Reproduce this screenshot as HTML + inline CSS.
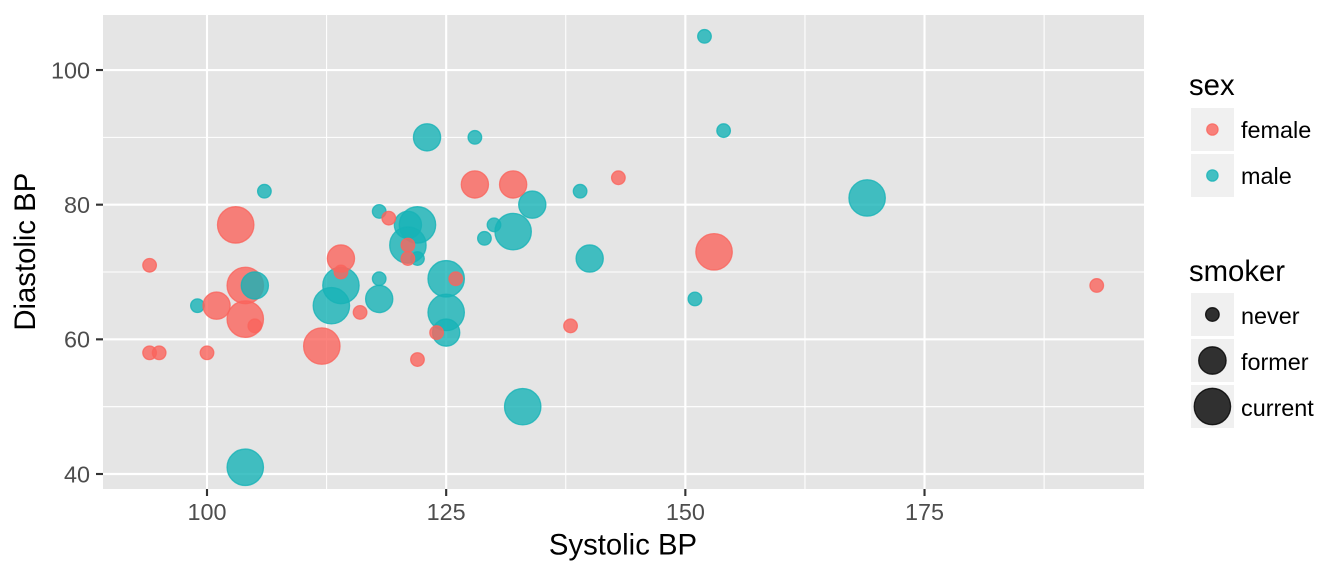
<!DOCTYPE html>
<html>
<head>
<meta charset="utf-8">
<title>Blood pressure scatter plot</title>
<style>
html,body{margin:0;padding:0;background:#fff;width:1344px;height:576px;overflow:hidden}
svg{display:block}
text{font-family:"Liberation Sans",Arial,sans-serif}
.tick-label{font-size:23.4px;fill:#4d4d4d}
.axis-title{font-size:29.3px;fill:#000}
.legend-title{font-size:29.3px;fill:#000}
.legend-label{font-size:23.4px;fill:#000}
</style>
</head>
<body>
<svg id="chart" xmlns="http://www.w3.org/2000/svg" width="1344" height="576" viewBox="0 0 1344 576">
  <rect x="103" y="15" width="1041" height="474" fill="#e5e5e5"/>
  <g id="grid"></g>
  <g id="points"></g>
  <g id="axes"></g>
  <text class="axis-title" x="623" y="554.5" text-anchor="middle">Systolic BP</text>
  <text class="axis-title" x="0" y="0" text-anchor="middle" transform="translate(35 251.7) rotate(-90)">Diastolic BP</text>

  <g>
    <text class="legend-title" x="1189" y="95">sex</text>
    <rect x="1191" y="108" width="43" height="43" fill="#f0f0f0"/>
    <circle cx="1212.4" cy="129.5" r="5.7" fill="#FA645D" fill-opacity=".8" stroke="#FA645D" stroke-opacity=".8" stroke-width="1.2"/>
    <text class="legend-label" x="1241" y="138">female</text>
    <rect x="1191" y="154" width="43" height="43" fill="#f0f0f0"/>
    <circle cx="1212.4" cy="175.5" r="5.7" fill="#16B3B7" fill-opacity=".8" stroke="#16B3B7" stroke-opacity=".8" stroke-width="1.2"/>
    <text class="legend-label" x="1241" y="184">male</text>
  </g>

  <g>
    <text class="legend-title" x="1189" y="281">smoker</text>
    <rect x="1191" y="293" width="43" height="43" fill="#f0f0f0"/>
    <circle cx="1212.4" cy="314.5" r="6.8" fill="#000" fill-opacity=".8" stroke="#000" stroke-opacity=".8" stroke-width="1.3"/>
    <text class="legend-label" x="1241" y="324">never</text>
    <rect x="1191" y="339" width="43" height="43" fill="#f0f0f0"/>
    <circle cx="1212.4" cy="360.5" r="13.7" fill="#000" fill-opacity=".8" stroke="#000" stroke-opacity=".8" stroke-width="1.3"/>
    <text class="legend-label" x="1241" y="370">former</text>
    <rect x="1191" y="385" width="43" height="43" fill="#f0f0f0"/>
    <circle cx="1212.4" cy="406.5" r="18.2" fill="#000" fill-opacity=".8" stroke="#000" stroke-opacity=".8" stroke-width="1.3"/>
    <text class="legend-label" x="1241" y="416">current</text>
  </g>
</svg>
<script>
var xTicks = [100, 125, 150, 175];
var yTicks = [40, 60, 80, 100];
var xMinorTicks = [112.5, 137.5, 162.5, 187.5];
var yMinorTicks = [50, 70, 90];

var maleSystolic  = [99,104,106,113,114,118,118,118,121,122,121,122,123,125,125,125,128,129,130,132,133,134,139,140,151,152,154,169];
var maleDiastolic = [65,41,82,65,68,79,69,66,77,77,74,72,90,69,64,61,90,75,77,76,50,80,82,72,66,105,91,81];
var maleSmoker    = ['never','current','never','current','current','never','never','former','former','current','current','never','former','current','current','former','never','never','never','current','current','former','never','former','never','never','never','current'];

var femaleSystolic  = [94,94,95,100,101,103,104,104,105,112,114,114,116,119,121,121,122,124,126,128,132,138,143,153,193];
var femaleDiastolic = [71,58,58,58,65,77,68,63,62,59,72,70,64,78,74,72,57,61,69,83,83,62,84,73,68];
var femaleSmoker    = ['never','never','never','never','former','current','current','current','never','current','former','never','never','never','never','never','never','never','never','former','former','never','never','current','never'];

var lateMaleSystolic  = [105];
var lateMaleDiastolic = [68];
var lateMaleSmoker    = ['former'];

var smokerRadius = {never: 6.8, former: 13.6, current: 18.2};
var sexColor = {female: '#FA645D', male: '#16B3B7'};

function xScale(v) { return 207 + (v - 100) * 9.567; }
function yScale(v) { return 474 - (v - 40) * 6.733; }

var NS = 'http://www.w3.org/2000/svg';
var grid = document.getElementById('grid');
var axes = document.getElementById('axes');
var pointsLayer = document.getElementById('points');

function makeLine(parent, x1, y1, x2, y2, color, width) {
  var l = document.createElementNS(NS, 'line');
  l.setAttribute('x1', x1);
  l.setAttribute('y1', y1);
  l.setAttribute('x2', x2);
  l.setAttribute('y2', y2);
  l.setAttribute('stroke', color);
  l.setAttribute('stroke-width', width);
  parent.appendChild(l);
  return l;
}

xMinorTicks.forEach(function (t) {
  var l = makeLine(grid, xScale(t), 15, xScale(t), 489, '#fff', 1.07);
  
  
});
yMinorTicks.forEach(function (t) {
  var l = makeLine(grid, 103, yScale(t), 1144, yScale(t), '#fff', 1.07);
  
  
});
xTicks.forEach(function (t) {
  var g = makeLine(grid, xScale(t), 15, xScale(t), 489, '#fff', 2.13);
  
  
  var m = makeLine(axes, xScale(t), 489, xScale(t), 496, '#333', 2.13);
  
  
  var txt = document.createElementNS(NS, 'text');
  txt.setAttribute('class', 'tick-label');
  txt.setAttribute('x', xScale(t));
  txt.setAttribute('y', 520);
  txt.setAttribute('text-anchor', 'middle');
  txt.textContent = t;
  
  
  axes.appendChild(txt);
});
yTicks.forEach(function (t) {
  var g = makeLine(grid, 103, yScale(t), 1144, yScale(t), '#fff', 2.13);
  
  
  var m = makeLine(axes, 96, yScale(t), 103, yScale(t), '#333', 2.13);
  
  
  var txt = document.createElementNS(NS, 'text');
  txt.setAttribute('class', 'tick-label');
  txt.setAttribute('x', 90);
  txt.setAttribute('y', yScale(t) + 8.3);
  txt.setAttribute('text-anchor', 'end');
  txt.textContent = t;
  
  
  axes.appendChild(txt);
});

function drawSeries(sex, xs, ys, smokers) {
  xs.forEach(function (v, i) {
    var c = document.createElementNS(NS, 'circle');
    c.setAttribute('cx', xScale(v));
    c.setAttribute('cy', yScale(ys[i]));
    c.setAttribute('r', smokerRadius[smokers[i]]);
    c.setAttribute('fill', sexColor[sex]);
    c.setAttribute('fill-opacity', '0.8');
    c.setAttribute('stroke', sexColor[sex]);
    c.setAttribute('stroke-opacity', '0.8');
    c.setAttribute('stroke-width', '1.3');
    
    
    pointsLayer.appendChild(c);
  });
}

drawSeries('male', maleSystolic, maleDiastolic, maleSmoker);
drawSeries('female', femaleSystolic, femaleDiastolic, femaleSmoker);
drawSeries('male', lateMaleSystolic, lateMaleDiastolic, lateMaleSmoker);
</script>
</body>
</html>
